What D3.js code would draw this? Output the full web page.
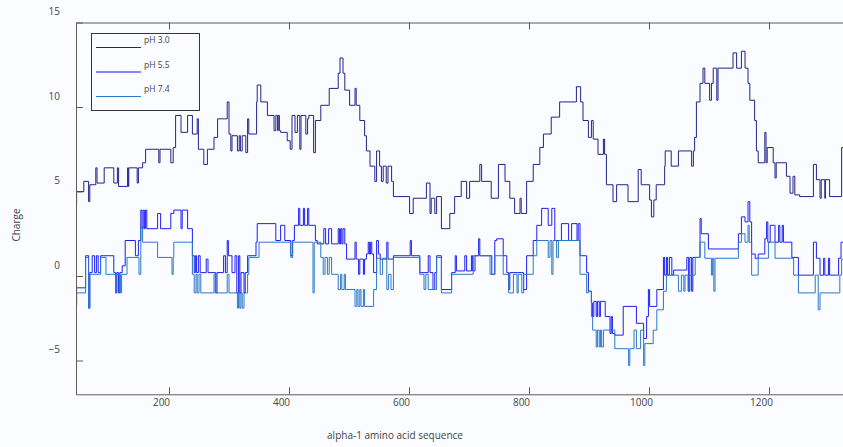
<!DOCTYPE html>
<html>
<head>
<meta charset="utf-8">
<script src="https://cdn.jsdelivr.net/npm/d3@7"></script>
<style>
  body { margin: 0; background: #fafcff; }
  svg { display: block; font-family: "Open Sans", sans-serif; }
  .axis path, .axis line { stroke: #635c55; }
  .axis text { fill: #444; font-size: 10px; font-family: "Open Sans", sans-serif; }
</style>
</head>
<body>
<div id="chart"></div>
<script>
// charge along the sequence as [residue, charge] step points
var ph30 = [[45,4.2],[46,5.0],[58,5.6],[66,4.4],[68,5.4],[78,6.4],[80,5.5],[92,6.4],[108,5.5],[114,6.4],[116,5.3],[131,6.4],[132,5.3],[133,6.4],[147,5.5],[149,6.4],[156,6.7],[161,7.5],[183,6.7],[185,7.5],[203,6.7],[207,7.6],[211,9.5],[220,8.5],[231,9.5],[239,8.4],[247,9.3],[249,7.5],[258,6.6],[264,7.5],[275,8.2],[281,9.3],[297,10.3],[300,8.4],[303,7.4],[305,8.3],[314,7.4],[317,8.3],[319,7.4],[322,8.3],[328,7.3],[331,9.3],[333,8.4],[346,10.3],[347,11.3],[353,10.3],[364,9.5],[375,8.6],[378,9.5],[381,8.6],[382,9.5],[384,8.6],[386,8.5],[397,8.0],[402,7.5],[405,9.5],[410,8.5],[414,9.5],[418,7.5],[420,9.5],[428,8.4],[431,9.3],[433,9.5],[441,7.3],[444,9.2],[453,10.1],[467,11.1],
  [482,12.0],[485,12.9],[490,12.0],[493,11.0],[501,10.1],[510,11.1],[512,10.1],[518,9.2],[526,8.3],[529,7.4],[535,6.5],[543,5.6],[546,7.4],[551,6.5],[554,5.6],[557,6.5],[562,5.5],[565,6.5],[571,5.6],[574,4.7],[601,3.7],[607,4.6],[629,5.5],[635,3.7],[637,4.6],[643,3.7],[646,4.7],[654,2.8],[668,3.7],[676,4.7],[687,5.6],[696,4.6],[701,5.6],[718,6.6],[721,5.6],[737,4.6],[749,6.6],[760,5.6],[768,4.6],[776,3.7],[785,4.6],[787,3.7],[796,5.6],[807,6.6],[818,7.6],[824,8.4],[837,9.4],[851,10.3],[879,11.2],[886,10.3],[890,9.2],[899,8.2],
  [904,9.2],[907,8.1],[915,7.2],[924,8.1],[926,7.2],[929,5.4],[940,4.4],[946,5.4],[965,4.4],[982,6.3],[987,5.4],[1001,4.5],[1004,3.5],[1008,4.5],[1012,5.4],[1026,6.5],[1027,7.4],[1037,6.5],[1049,7.4],[1071,6.5],[1074,7.4],[1076,8.2],[1079,10.3],[1085,11.4],[1090,12.3],[1093,11.4],[1101,10.4],[1104,11.4],[1107,12.3],[1113,10.4],[1115,12.3],[1140,13.2],[1146,12.3],[1154,13.3],[1160,12.3],[1165,11.4],[1168,10.4],[1176,9.2],[1179,7.4],[1182,6.7],[1193,8.5],[1195,6.7],[1197,7.6],[1207,6.7],[1210,5.8],[1212,6.7],[1229,5.9],[1235,4.9],[1240,5.9],[1243,4.8],[1251,4.7],[1274,6.6],[1279,5.7],[1285,4.6],[1287,5.7],[1293,4.6],[1294,5.7],[1301,4.7],[1321,7.6],[1326,7.6]];

var ph55 = [[45,-1.7],[46,-0.7],[61,1.2],[66,-1.9],[68,0.2],[72,1.2],[76,0.2],[79,1.2],[82,0.2],[86,1.2],[108,0.2],[111,-1.0],[113,0.2],[116,-1.0],[118,0.2],[122,0.6],[127,2.1],[144,1.2],[149,2.1],[153,3.9],[155,2.8],[157,3.9],[159,2.8],[161,3.9],[163,2.8],[181,3.7],[186,2.8],[203,3.7],[208,3.9],[220,2.8],[222,3.9],[231,2.8],[239,1.2],[242,0.2],[244,1.2],[246,0.2],[249,1.2],[252,0.2],[262,1.0],[265,0.2],[278,-1.0],[280,0.2],[291,1.2],[294,0.2],[297,2.1],[299,1.2],[305,0.2],[310,1.2],[313,-1.0],[316,1.2],[318,-1.0],[320,0.2],[325,-1.0],[327,0.2],[331,1.2],[345,2.0],[347,3.1],[378,2.1],[386,3.0],[393,2.1],[403,1.2],[406,2.1],[409,3.0],[416,4.0],[418,3.0],[424,4.0],[426,3.0],[431,4.0],[433,3.0],[444,2.1],[447,1.9],[458,2.8],[461,1.9],[466,2.8],
  [471,1.9],[482,2.8],[484,1.9],[486,2.8],[488,1.9],[490,2.8],[493,1.9],[496,1.0],[510,2.0],[512,1.0],[516,0.1],[518,1.0],[524,0.1],[526,1.0],[529,1.3],[532,2.0],[534,1.3],[536,2.0],[538,1.3],[541,0.2],[546,2.1],[549,1.3],[552,1.0],[563,2.0],[565,1.0],[574,1.2],[602,2.1],[604,1.2],[618,0.2],[632,1.2],[635,0.2],[640,-0.8],[643,0.2],[646,1.2],[654,-0.8],[671,0.2],[677,1.2],[679,0.3],[693,1.2],[696,0.3],[704,1.2],[706,0.3],[710,1.2],[716,2.2],[718,1.2],[738,0.1],[743,2.1],[746,2.2],[757,1.2],[763,0.2],[766,-0.8],[768,0.2],[791,-0.8],[796,1.2],[807,2.1],[813,3.0],[821,4.0],[832,3.0],[838,4.0],[843,2.1],[854,3.1],[866,2.1],[871,3.1],[880,2.1],[882,3.1],[885,1.2],[896,0.2],
  [899,-0.9],[904,-1.6],[906,-2.4],[908,-1.5],[912,-2.4],[914,-1.5],[917,-2.4],[919,-1.5],[927,-2.4],[935,-3.4],[937,-2.4],[939,-3.4],[943,-3.5],[957,-1.8],[979,-2.8],[991,-3.7],[996,-2.4],[999,-0.8],[1001,-1.8],[1013,-0.8],[1024,1.1],[1026,0.05],[1029,1.1],[1031,0.05],[1034,1.1],[1038,0.05],[1041,0.35],[1063,1.1],[1066,-0.9],[1068,1.1],[1071,-0.9],[1073,1.1],[1085,3.4],[1087,2.5],[1099,1.6],[1149,2.5],[1154,3.5],[1160,3.2],[1165,4.4],[1168,3.2],[1171,1.3],[1177,1.05],[1182,1.3],[1193,2.2],[1196,3.2],[1198,2.0],[1202,3.0],[1210,2.0],[1216,3.0],[1218,2.0],[1222,3.0],[1224,2.0],[1238,1.1],[1249,0.05],[1274,2.0],[1279,1.05],[1285,0.05],[1291,1.05],[1293,0.05],[1299,1.05],[1301,0.05],[1316,1.05],[1320,2.0],[1326,2.0]];

var ph74 = [[45,-1.7],[46,-1.0],[61,1.1],[66,-1.9],[68,0.1],[86,1.1],[95,0.1],[111,-1.0],[113,0.1],[119,-1.0],[121,0.1],[130,1.1],[150,0.1],[153,2.9],[156,2.0],[181,1.1],[205,0.1],[207,1.1],[208,2.0],[231,2.0],[239,0.1],[242,-1.0],[245,0.1],[247,-1.0],[250,0.1],[253,-1.0],[275,0.1],[277,-1.0],[297,0.1],[300,-1.0],[314,-1.9],[316,-1.0],[318,-1.9],[320,-1.0],[322,-1.9],[325,-1.0],[331,0.1],[333,1.1],[350,2.0],[403,1.1],[406,2.0],[439,2.0],[440,-1.0],[442,2.0],[453,1.1],[457,0.1],[460,1.1],[464,0.1],[467,1.1],
  [471,0.1],[482,-0.8],[486,0.1],[488,-0.8],[492,0.1],[494,-0.8],[510,-1.8],[513,-0.8],[515,-1.8],[518,-0.8],[520,-1.8],[524,-0.8],[526,-1.8],[541,-0.8],[546,1.05],[552,0.1],[556,1.05],[563,-0.8],[566,0.1],[570,-0.8],[574,1.1],[618,0.1],[625,-0.8],[628,0.1],[632,-0.8],[646,1.1],[654,-1.0],[671,0.1],[707,1.2],[735,0.1],[743,1.2],[757,0.1],[766,-1.0],[774,0.1],[780,-1.0],[782,0.1],[788,-1.0],[791,0.1],[807,1.2],[813,2.1],[832,1.1],[835,2.1],[838,0.1],[840,2.1],[846,1.1],[849,2.1],[885,0.1],[896,-1.0],
  [899,-0.9],[904,-2.4],[906,-3.2],[912,-4.2],[914,-3.2],[917,-4.2],[919,-3.2],[921,-4.2],[924,-3.2],[943,-4.3],[966,-5.3],[968,-4.3],[975,-3.2],[979,-4.3],[986,-3.2],[991,-5.3],[993,-4.0],[1007,-3.2],[1013,-2.0],[1024,-0.9],[1029,0.05],[1049,-0.9],[1054,0.05],[1058,-0.9],[1060,0.05],[1065,-0.9],[1067,0.05],[1077,1.1],[1085,2.0],[1093,1.05],[1104,0.05],[1106,1.05],[1108,-0.9],[1110,1.05],[1149,2.0],[1154,2.5],[1160,2.0],[1165,3.0],[1167,2.0],[1171,0.05],[1182,1.05],[1199,2.0],[1210,1.05],[1241,0.05],[1249,-1.0],[1277,0.05],[1282,-2.0],[1285,-1.0],[1316,-1.0],[1318,0.05],[1321,1.0],[1326,1.0]];

var seriesNames = ["pH 3.0", "pH 5.5", "pH 7.4"];
var seriesColors = ["#23238c", "#1f1ff5", "#2a78c8"];
var legendColors = ["#23238c", "#8484ff", "#2a78c8"];
var xTicks = [200, 400, 600, 800, 1000, 1200];
var yTicks = [-5, 0, 5, 10, 15];

var W = 843, H = 447;
var mLeft = 76, mTop = 22.5, mRight = 843, mBottom = 394.3;

var svg = d3.select("#chart").append("svg")
    .attr("width", W)
    .attr("height", H);

svg.append("rect").attr("width", W).attr("height", H).attr("fill", "#fafcff");

// scales: residue 45..1323 across, charge -7..15 up
var x = d3.scaleLinear().domain([45, 1323.3]).range([mLeft, mRight]);
var y = d3.scaleLinear().domain([-7, 15]).range([mBottom, mTop]);

svg.append("clipPath").attr("id", "plotclip")
  .append("rect")
    .attr("x", mLeft).attr("y", mTop - 1)
    .attr("width", mRight - mLeft).attr("height", mBottom - mTop + 1);

var line = d3.line()
    .x(function(d) { return x(d[0]); })
    .y(function(d) { return y(d[1]); })
    .curve(d3.curveStepAfter);

var plot = svg.append("g").attr("clip-path", "url(#plotclip)");
[ph30, ph55, ph74].forEach(function(s, i) {
  plot.append("path")
      .datum(s)
      .attr("fill", "none")
      .attr("stroke", seriesColors[i])
      .attr("stroke-width", 1)
      .attr("d", line);
});

// axes - ticks point inward, labels sit a bit off the ticks like the original
var xAxis = svg.append("g")
    .attr("class", "axis")
    .attr("transform", "translate(0," + mBottom + ")")
    .call(d3.axisBottom(x).tickValues(xTicks).tickFormat(d3.format("d"))
      .tickSizeInner(-7).tickSizeOuter(0).tickPadding(5));
xAxis.selectAll("text").attr("x", -8);

svg.append("g")
    .attr("class", "axis")
    .attr("transform", "translate(0," + mTop + ")")
    .call(d3.axisTop(x).tickValues(xTicks).tickSizeInner(-7).tickSizeOuter(0).tickFormat(""));

var yAxis = svg.append("g")
    .attr("class", "axis")
    .attr("transform", "translate(" + mLeft + ",0)")
    .call(d3.axisLeft(y).tickValues(yTicks).tickFormat(d3.format("d"))
      .tickSizeInner(-7).tickSizeOuter(0).tickPadding(16));
yAxis.selectAll("text").attr("y", -11);

// axis titles
svg.append("text")
    .attr("x", 395).attr("y", 439)
    .attr("text-anchor", "middle")
    .attr("font-size", "10px")
    .attr("fill", "#444")
    .text("alpha-1 amino acid sequence");

svg.append("text")
    .attr("transform", "translate(20,225) rotate(-90)")
    .attr("text-anchor", "middle")
    .attr("font-size", "10px")
    .attr("fill", "#444")
    .text("Charge");

// legend
var legend = svg.append("g");
legend.append("rect")
    .attr("x", 91.5).attr("y", 33.5)
    .attr("width", 108).attr("height", 77)
    .attr("fill", "#fafcff")
    .attr("stroke", "#3a3430");

seriesNames.forEach(function(n, i) {
  var ly = 47.5 + i * 24.5;
  legend.append("line")
      .attr("x1", 96).attr("x2", 141)
      .attr("y1", ly).attr("y2", ly)
      .attr("stroke", legendColors[i])
      .attr("stroke-width", i == 1 ? 1.8 : 1.2);
  legend.append("text")
      .attr("x", 144).attr("y", ly - 4.5)
      .attr("font-size", "8.5px")
      .attr("fill", "#444")
      .text(n);
});
</script>
</body>
</html>
